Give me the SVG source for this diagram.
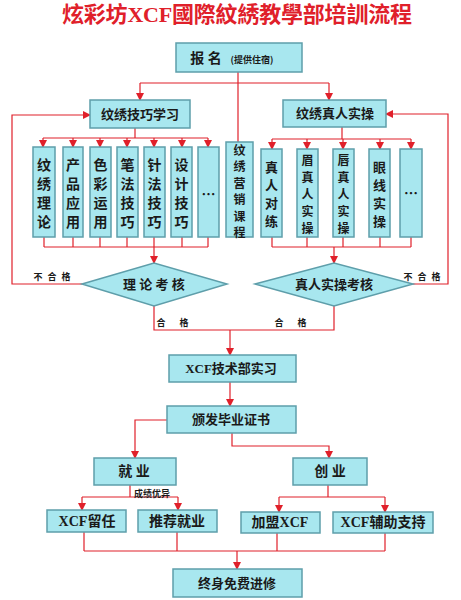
<svg xmlns="http://www.w3.org/2000/svg" width="461" height="600" viewBox="0 0 461 600">
<defs>
<marker id="arr" markerUnits="userSpaceOnUse" markerWidth="8" markerHeight="8" refX="7" refY="4" orient="auto">
<path d="M0,0 L8,4 L0,8 z" fill="#e0202a"/>
</marker>
<style>
.b{fill:#a8e7ef;stroke:#5e9eaa;stroke-width:1.5}
.t{font-family:"Liberation Serif","Noto Sans CJK SC",serif;font-weight:bold;fill:#1a1a1a;text-anchor:middle;dominant-baseline:central}
.v{font-family:"Noto Sans CJK SC",sans-serif;font-weight:bold;fill:#1a1a1a;text-anchor:middle;dominant-baseline:central;font-size:14px}
.w{font-size:12px}
.x{font-size:12px}
.y{font-size:13px}
.s{font-family:"Noto Sans CJK SC",sans-serif;font-weight:bold;fill:#1a1a1a;text-anchor:middle;dominant-baseline:central;font-size:9px}
.c path,.c line,.c polyline{fill:none;stroke:#e0202a;stroke-width:1.2}
.a{marker-end:url(#arr)}
</style>
</defs>
<rect width="461" height="600" fill="#ffffff"/>
<text x="237" y="14" font-family="Liberation Serif,'Noto Sans CJK SC',serif" font-weight="bold" font-size="22" fill="#e0202a" text-anchor="middle" dominant-baseline="central" textLength="350">炫彩坊XCF國際紋綉教學部培訓流程</text>

<g class="c">
<line x1="238" y1="72" x2="238" y2="142"/>
<line x1="140" y1="83" x2="329" y2="83"/>
<line class="a" x1="140" y1="83" x2="140" y2="100"/>
<line class="a" x1="329" y1="83" x2="329" y2="100"/>
<polyline class="a" points="82,284 12,284 12,115 90,115"/>
<line x1="135" y1="128" x2="135" y2="138"/>
<line x1="43" y1="138" x2="208" y2="138"/>
<line class="a" x1="43" y1="138" x2="43" y2="147"/>
<line class="a" x1="73" y1="138" x2="73" y2="147"/>
<line class="a" x1="100" y1="138" x2="100" y2="147"/>
<line class="a" x1="127" y1="138" x2="127" y2="147"/>
<line class="a" x1="154" y1="138" x2="154" y2="147"/>
<line class="a" x1="182" y1="138" x2="182" y2="147"/>
<line class="a" x1="208" y1="138" x2="208" y2="147"/>
<path d="M44,237V247M73,237V247M100,237V247M127,237V247M154,237V247M182,237V247M208,237V247M44,247H208"/>
<line class="a" x1="154" y1="247" x2="154" y2="263"/>
<line x1="342" y1="127" x2="342" y2="139"/>
<line x1="272" y1="139" x2="411" y2="139"/>
<line class="a" x1="272" y1="139" x2="272" y2="149"/>
<line class="a" x1="307" y1="139" x2="307" y2="149"/>
<line class="a" x1="343" y1="139" x2="343" y2="149"/>
<line class="a" x1="380" y1="139" x2="380" y2="149"/>
<line class="a" x1="411" y1="139" x2="411" y2="149"/>
<path d="M272,237V247M307,237V247M343,237V247M380,237V247M411,237V247M272,247H411"/>
<line class="a" x1="334" y1="247" x2="334" y2="263"/>
<polyline class="a" points="413,284 448,284 448,114 386,114"/>
<polyline points="154,306 154,330 334,330 334,306"/>
<line class="a" x1="230" y1="330" x2="230" y2="355"/>
<line class="a" x1="230" y1="382" x2="230" y2="406"/>
<polyline class="a" points="167,420 135,420 135,458"/>
<polyline class="a" points="232,433 232,446 329,446 329,458"/>
<line x1="130" y1="485" x2="130" y2="497"/>
<line x1="82" y1="497" x2="178" y2="497"/>
<line class="a" x1="82" y1="497" x2="82" y2="510"/>
<line class="a" x1="178" y1="497" x2="178" y2="510"/>
<line x1="328" y1="485" x2="328" y2="497"/>
<line x1="279" y1="497" x2="385" y2="497"/>
<line class="a" x1="279" y1="497" x2="279" y2="512"/>
<line class="a" x1="385" y1="497" x2="385" y2="512"/>
<path d="M84,532V551M177,532V551M277,533V551M385,533V551M84,551H385"/>
<line class="a" x1="237" y1="551" x2="237" y2="569"/>
</g>

<g id="baoming"><rect class="b" x="176" y="43" width="126" height="29"/><text class="t" x="206" y="58" font-size="14">报 名</text><text class="s" x="252" y="59">(提供住宿)</text></g>
<g id="jiqiao"><rect class="b" x="90" y="100" width="100" height="28"/><text class="t" x="140" y="114" font-size="13">纹绣技巧学习</text></g>
<g id="zhenren"><rect class="b" x="283" y="100" width="103" height="27"/><text class="t" x="335" y="113.5" font-size="13">纹绣真人实操</text></g>

<g id="l1"><rect class="b" x="33" y="147" width="22" height="90"/><text class="v"><tspan x="44" y="164">纹</tspan><tspan x="44" y="183">绣</tspan><tspan x="44" y="202">理</tspan><tspan x="44" y="221">论</tspan></text></g>
<g id="l2"><rect class="b" x="63" y="147" width="20" height="90"/><text class="v"><tspan x="73" y="164">产</tspan><tspan x="73" y="183">品</tspan><tspan x="73" y="202">应</tspan><tspan x="73" y="221">用</tspan></text></g>
<g id="l3"><rect class="b" x="90" y="147" width="21" height="90"/><text class="v"><tspan x="100.5" y="164">色</tspan><tspan x="100.5" y="183">彩</tspan><tspan x="100.5" y="202">运</tspan><tspan x="100.5" y="221">用</tspan></text></g>
<g id="l4"><rect class="b" x="117" y="147" width="21" height="90"/><text class="v"><tspan x="127.5" y="164">笔</tspan><tspan x="127.5" y="183">法</tspan><tspan x="127.5" y="202">技</tspan><tspan x="127.5" y="221">巧</tspan></text></g>
<g id="l5"><rect class="b" x="144" y="147" width="21" height="90"/><text class="v"><tspan x="154.5" y="164">针</tspan><tspan x="154.5" y="183">法</tspan><tspan x="154.5" y="202">技</tspan><tspan x="154.5" y="221">巧</tspan></text></g>
<g id="l6"><rect class="b" x="171" y="147" width="21" height="90"/><text class="v"><tspan x="181.5" y="164">设</tspan><tspan x="181.5" y="183">计</tspan><tspan x="181.5" y="202">技</tspan><tspan x="181.5" y="221">巧</tspan></text></g>
<g id="l7"><rect class="b" x="198" y="147" width="21" height="90"/><text class="v" x="208.5" y="193">…</text></g>

<g id="yingxiao"><rect class="b" x="226" y="142" width="27" height="95"/><text class="v x"><tspan x="239.5" y="148.5">纹</tspan><tspan x="239.5" y="165">绣</tspan><tspan x="239.5" y="181.5">营</tspan><tspan x="239.5" y="198">销</tspan><tspan x="239.5" y="214.5">课</tspan><tspan x="239.5" y="231">程</tspan></text></g>

<g id="r1"><rect class="b" x="261" y="149" width="21" height="88"/><text class="v y"><tspan x="271.5" y="166">真</tspan><tspan x="271.5" y="184">人</tspan><tspan x="271.5" y="202">对</tspan><tspan x="271.5" y="220">练</tspan></text></g>
<g id="r2"><rect class="b" x="297" y="149" width="21" height="88"/><text class="v w"><tspan x="307.5" y="159">眉</tspan><tspan x="307.5" y="176">真</tspan><tspan x="307.5" y="193">人</tspan><tspan x="307.5" y="210">实</tspan><tspan x="307.5" y="227">操</tspan></text></g>
<g id="r3"><rect class="b" x="333" y="149" width="21" height="88"/><text class="v w"><tspan x="343.5" y="159">唇</tspan><tspan x="343.5" y="176">真</tspan><tspan x="343.5" y="193">人</tspan><tspan x="343.5" y="210">实</tspan><tspan x="343.5" y="227">操</tspan></text></g>
<g id="r4"><rect class="b" x="369" y="149" width="21" height="88"/><text class="v y"><tspan x="379.5" y="166">眼</tspan><tspan x="379.5" y="184">线</tspan><tspan x="379.5" y="202">实</tspan><tspan x="379.5" y="220">操</tspan></text></g>
<g id="r5"><rect class="b" x="400" y="149" width="22" height="88"/><text class="v" x="411" y="192">…</text></g>

<g id="kaohe1"><polygon class="b" points="82,284 154,263 227,284 154,306"/><text class="t" x="154" y="284.5" font-size="13">理 论 考 核</text></g>
<g id="kaohe2"><polygon class="b" points="255,284 334,263 413,284 334,306"/><text class="t" x="334" y="284.5" font-size="13">真人实操考核</text></g>
<g id="lbl">
<text class="s" font-size="9.5" y="276"><tspan x="38">不</tspan><tspan x="52">合</tspan><tspan x="66">格</tspan></text>
<text class="s" font-size="9.5" y="276"><tspan x="408">不</tspan><tspan x="422">合</tspan><tspan x="436">格</tspan></text>
<text class="s" font-size="9.5" y="322"><tspan x="161">合</tspan><tspan x="184">格</tspan></text>
<text class="s" font-size="9.5" y="322"><tspan x="279">合</tspan><tspan x="302">格</tspan></text>
<text class="s" x="152" y="493" font-size="8">成绩优异</text>
</g>

<g id="shixi"><rect class="b" x="169" y="355" width="127" height="27"/><text class="t" x="231" y="368.5" font-size="13">XCF技术部实习</text></g>
<g id="zhengshu"><rect class="b" x="167" y="406" width="129" height="27"/><text class="t" x="231" y="419.5" font-size="13">颁发毕业证书</text></g>
<g id="jiuye"><rect class="b" x="94" y="458" width="82" height="27"/><text class="t" x="134" y="471.5" font-size="14">就  业</text></g>
<g id="chuangye"><rect class="b" x="293" y="458" width="74" height="27"/><text class="t" x="330" y="471.5" font-size="14">创  业</text></g>
<g id="liuren"><rect class="b" x="47" y="510" width="79" height="22"/><text class="t" x="87" y="521" font-size="14">XCF留任</text></g>
<g id="tuijian"><rect class="b" x="138" y="510" width="79" height="22"/><text class="t" x="177" y="521" font-size="14">推荐就业</text></g>
<g id="jiameng"><rect class="b" x="241" y="512" width="79" height="21"/><text class="t" x="280" y="522.5" font-size="14">加盟XCF</text></g>
<g id="fuzhu"><rect class="b" x="333" y="512" width="100" height="21"/><text class="t" x="383" y="522.5" font-size="14">XCF辅助支持</text></g>
<g id="jinxiu"><rect class="b" x="173" y="569" width="129" height="28"/><text class="t" x="237" y="583" font-size="13">终身免费进修</text></g>
</svg>
